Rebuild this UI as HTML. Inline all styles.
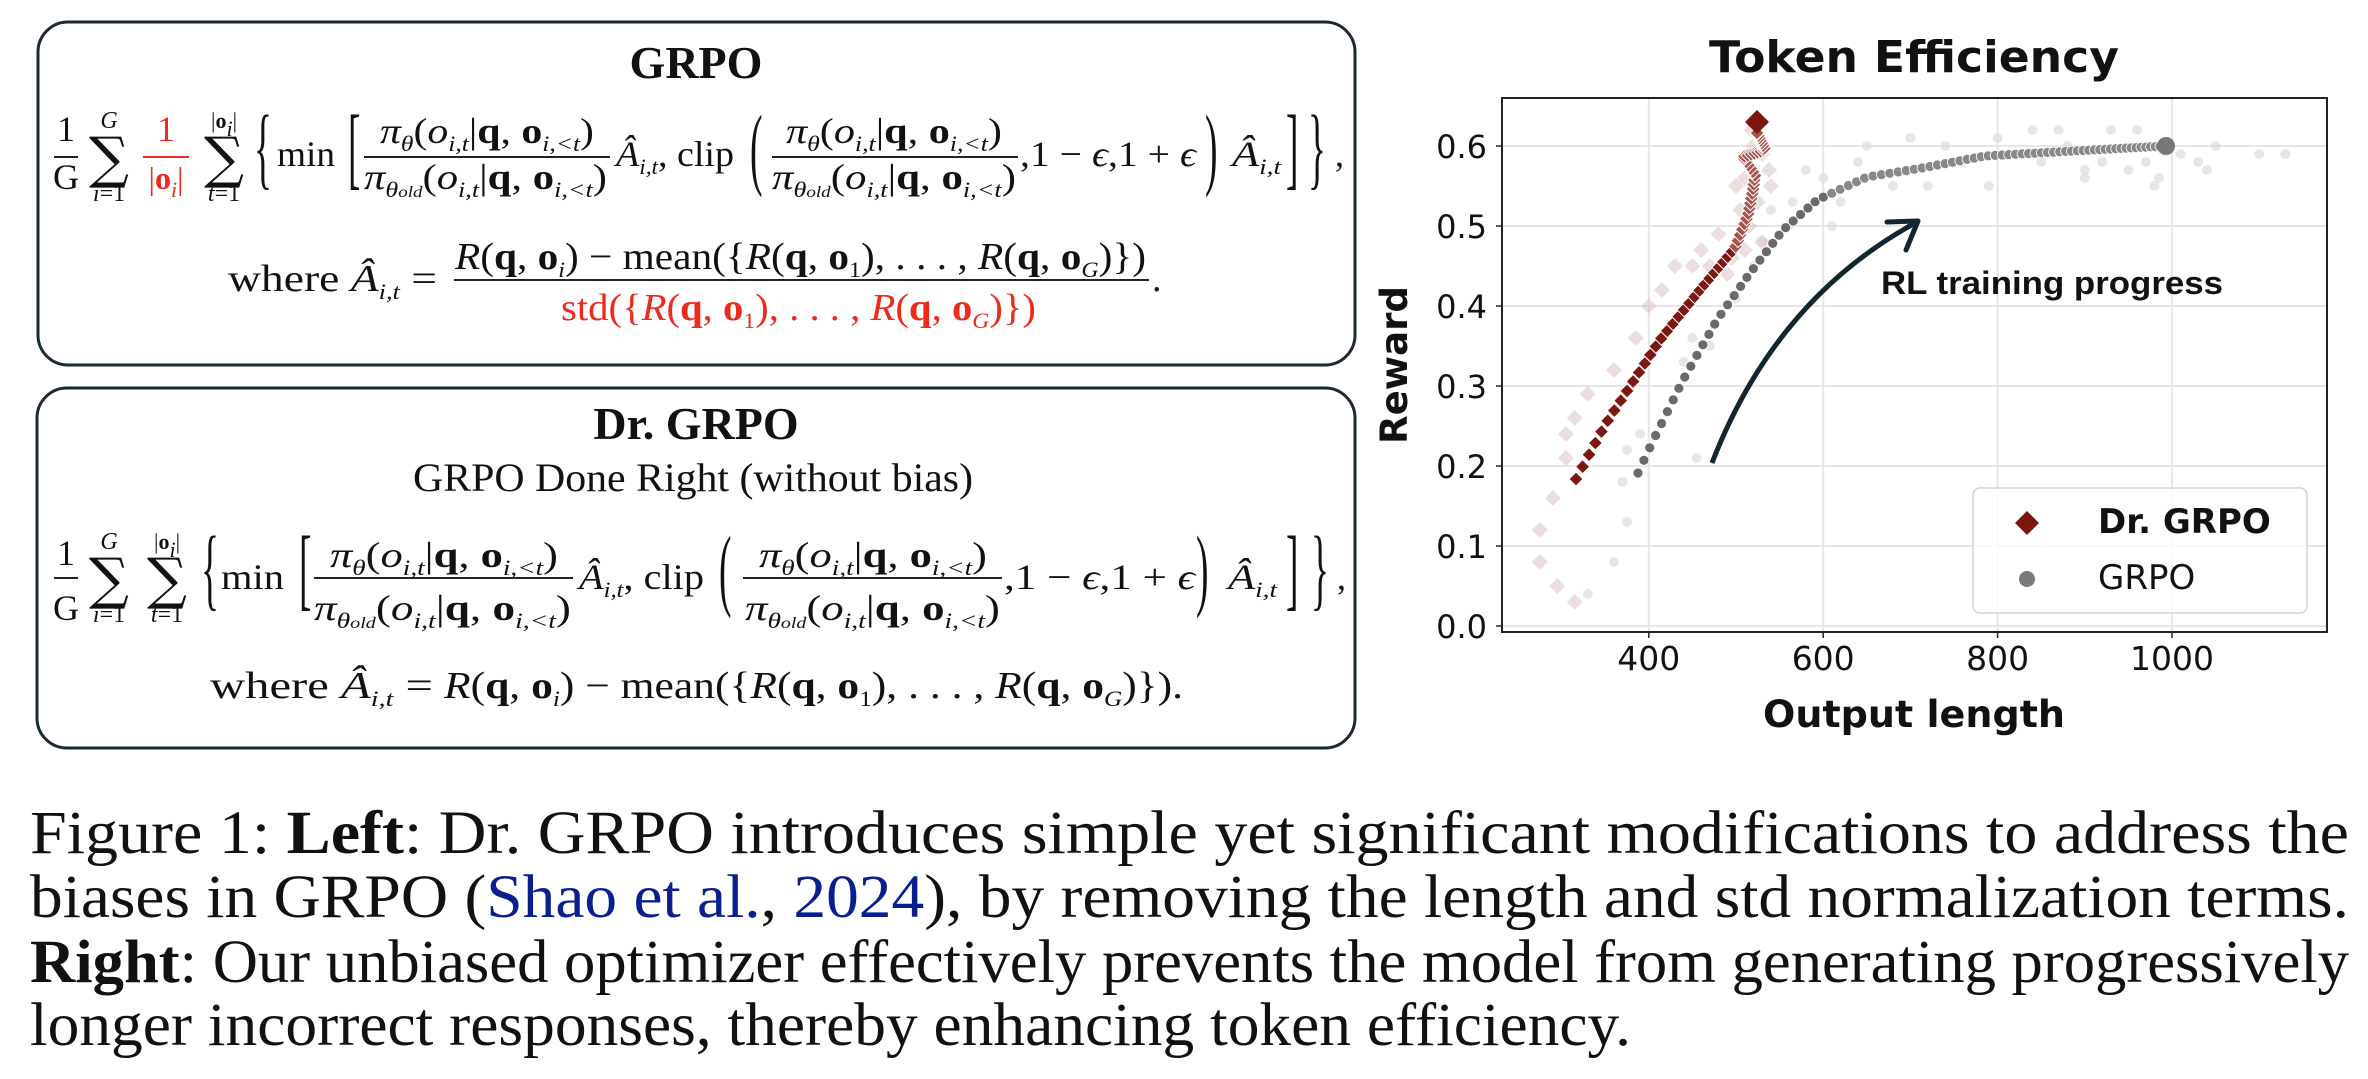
<!DOCTYPE html>
<html><head><meta charset="utf-8"><style>
html,body{margin:0;padding:0;background:#fff;}
svg{display:block}
.m{font-family:"Liberation Serif",serif;fill:#111}
.d{font-family:"DejaVu Sans",sans-serif;fill:#111}
</style></head><body>
<svg id="s" width="2368" height="1079" viewBox="0 0 2368 1079" xmlns="http://www.w3.org/2000/svg"></svg>
<script>
var o=[];
function I(s){return '<tspan font-style="italic">'+s+'</tspan>';}
function B(s){return '<tspan font-weight="bold">'+s+'</tspan>';}
function sb(s){return '<tspan dy="8" font-size="22" font-style="italic">'+s+'</tspan><tspan dy="-8">\u200B</tspan>';}
function T(x,y,w,c,sz,extra){o.push('<text class="m" x="'+x+'" y="'+y+'" font-size="'+(sz||34)+'"'+(w?' textLength="'+w+'" lengthAdjust="spacingAndGlyphs"':'')+(extra||'')+'>'+c+'</text>');}
function C(x,y,c,sz,extra){o.push('<text class="m" x="'+x+'" y="'+y+'" font-size="'+(sz||24)+'" text-anchor="middle"'+(extra||'')+'>'+c+'</text>');}
function L(x1,x2,y,col){o.push('<line x1="'+x1+'" x2="'+x2+'" y1="'+y+'" y2="'+y+'" stroke="'+(col||'#222')+'" stroke-width="2"/>');}
function big(ch,x,cy,h){var fs=34,sc=h/(0.9*fs);var by=cy+0.23*fs*sc;o.push('<text class="m" font-size="'+fs+'" transform="translate('+x+','+by+') scale(1.1,'+sc.toFixed(2)+')">'+ch+'</text>');}
function sig(cx,base){o.push('<text font-family="DejaVu Serif,serif" fill="#111" font-size="56" text-anchor="middle" x="'+cx+'" y="'+base+'">∑</text>');}
var RED='#ee2a1b';var RS=' style="fill:'+RED+'"';
var num=I('π')+sb('θ')+'('+I('o')+sb('i,t')+'|'+B('q')+', '+B('o')+sb('i,&lt;t')+')';
var den=I('π')+sb('θ<tspan font-size="16">old</tspan>')+'('+I('o')+sb('i,t')+'|'+B('q')+', '+B('o')+sb('i,&lt;t')+')';
var Ahat=I('Â')+sb('i,t');
function row1(bar,nb,db,mb,P){
 C(P.f+12,nb-2,'1',36);C(P.f+12,db,'G',36);L(P.f,P.f+24,bar);
 sig(109,bar+20);C(109,bar-29,I('G'),24);C(109,bar+44,I('i')+'=1',24);
 if(P.red){C(166,nb-2,'1',36,RS);L(143,189,bar,RED);C(166,db,'|'+B('o')+sb('i')+'|',32,RS);}
 sig(P.s2,bar+20);C(P.s2,bar-29,'|'+B('o')+sb('i')+'|',22);C(P.s2,bar+44,I('t')+'=1',24);
 big('{',P.br,bar,82);
 T(P.min,mb,P.minw,'min',36);
 big('[',P.sq,bar,82);
 T(P.n1,nb,P.n1w,num,36);L(P.b1a,P.b1b,bar);T(P.b1a,db,P.d1w,den,36);
 T(P.cl,mb,P.clw,Ahat+', clip',36);
 big('(',P.p1,bar,82);
 T(P.n2,nb,P.n2w,num,36);L(P.b2a,P.b2b,bar);T(P.d2,db,P.d2w,den,36);
 T(P.eps,mb,P.epsw,',1 − '+I('ϵ')+',1 + '+I('ϵ'),36);
 big(')',P.p2,bar,82);
 T(P.a2,mb,49,Ahat,36);
 big(']',1286,bar,82);big('}',P.cb,bar,82);T(P.cm,mb,0,',',36);
}
o.push('<rect x="38" y="22" width="1317" height="343" rx="30" fill="none" stroke="#1c2b33" stroke-width="3"/>');
o.push('<rect x="37" y="388" width="1318" height="360" rx="30" fill="none" stroke="#1c2b33" stroke-width="3"/>');
o.push('<text class="m" x="696" y="78" font-size="46" font-weight="bold" text-anchor="middle">GRPO</text>');
o.push('<text class="m" x="696" y="439" font-size="46" font-weight="bold" text-anchor="middle">Dr. GRPO</text>');
T(413,491,560,'GRPO Done Right (without bias)',40);
row1(157,143,189,166,{f:54,red:1,s2:224,br:254,min:277,minw:58,sq:348,n1:380,n1w:214,b1a:364,b1b:610,d1w:243,cl:616,clw:118,p1:750,n2:786,n2w:216,b2a:772,b2b:1018,d2:772,d2w:244,eps:1020,epsw:176,p2:1205,a2:1232,cb:1308,cm:1335});
row1(578,567,620,589,{f:54,red:0,s2:167,br:201,min:221,minw:63,sq:299,n1:330,n1w:228,b1a:314,b1b:573,d1w:257,cl:579,clw:125,p1:719,n2:759,n2w:228,b2a:743,b2b:1002,d2:745,d2w:255,eps:1004,epsw:191,p2:1196,a2:1228,cb:1311,cm:1337});
var R=function(x){return I('R')+'('+B('q')+', '+B('o')+x+')';};
var one='<tspan dy="8" font-size="22">1</tspan><tspan dy="-8">\u200B</tspan>';
T(228,291,209,'where '+Ahat+' =',38);
T(455,269,691,R(sb('i'))+' − mean({'+R(one)+', . . . , '+R(sb('G'))+'})',38);
L(454,1149,280);
T(561,320,475,'std({'+R(one)+', . . . , '+R(sb('G'))+'})',38,RS);
T(1152,291,0,'.',38);
T(210,698,223,'where '+Ahat+' =',38);
T(444,698,739,R(sb('i'))+' − mean({'+R(one)+', . . . , '+R(sb('G'))+'}).',38);
function cap(y,w,c){o.push('<text class="m" x="30" y="'+y+'" font-size="61" textLength="'+w+'" lengthAdjust="spacingAndGlyphs">'+c+'</text>');}
cap(853,2319,'Figure 1: <tspan font-weight="bold">Left</tspan>: Dr. GRPO introduces simple yet significant modifications to address the');
cap(917,2319,'biases in GRPO (<tspan style="fill:#0a1f8f">Shao et al.</tspan>, <tspan style="fill:#0a1f8f">2024</tspan>), by removing the length and std normalization terms.');
cap(982,2319,'<tspan font-weight="bold">Right</tspan>: Our unbiased optimizer effectively prevents the model from generating progressively');
cap(1045,1601,'longer incorrect responses, thereby enhancing token efficiency.');
var X=function(v){return 1300+0.872*v;},Y=function(r){return 626-800*r;};
var AL=1502,AR=2327,AT=98,AB=632;
for(var v=400;v<=1000;v+=200){o.push('<line x1="'+X(v)+'" x2="'+X(v)+'" y1="'+AT+'" y2="'+AB+'" stroke="#e6e6e6" stroke-width="2"/>');o.push('<line x1="'+X(v)+'" x2="'+X(v)+'" y1="'+AB+'" y2="'+(AB+6)+'" stroke="#222" stroke-width="1.5"/>');o.push('<text class="d" font-size="33" text-anchor="middle" x="'+X(v)+'" y="670">'+v+'</text>');}
for(var k=0;k<=6;k++){var y=Y(k/10);o.push('<line x1="'+AL+'" x2="'+AR+'" y1="'+y+'" y2="'+y+'" stroke="#e6e6e6" stroke-width="2"/>');o.push('<line x1="'+(AL-6)+'" x2="'+AL+'" y1="'+y+'" y2="'+y+'" stroke="#222" stroke-width="1.5"/>');o.push('<text class="d" font-size="32" text-anchor="end" x="1487" y="'+(y+12)+'">'+(k/10).toFixed(1)+'</text>');}
var fd=[[275,.08],[275,.12],[290,.16],[295,.05],[305,.21],[305,.24],[315,.26],[330,.29],[360,.32],[385,.36],[400,.40],[415,.42],[430,.45],[450,.45],[460,.47],[480,.49],[500,.55],[510,.56],[520,.60],[518,.62],[530,.59],[540,.55],[538,.57],[530,.48],[510,.47],[495,.46],[470,.45],[315,.03],[505,.52],[525,.53],[515,.50],[490,.44]];
var fg=[[330,.04],[360,.08],[375,.13],[370,.18],[375,.22],[390,.24],[450,.36],[455,.21],[500,.41],[530,.48],[540,.52],[565,.53],[580,.57],[600,.56],[610,.50],[620,.53],[640,.58],[650,.60],[680,.55],[700,.61],[720,.55],[740,.60],[760,.58],[790,.55],[800,.61],[820,.59],[840,.62],[850,.58],[870,.62],[880,.60],[900,.57],[920,.58],[930,.62],[950,.57],[960,.62],[970,.58],[985,.56],[1010,.59],[1030,.58],[1040,.57],[1050,.60],[1100,.59],[1130,.59],[980,.55],[900,.56],[470,.35],[440,.33],[520,.45],[560,.50]];
fg.forEach(function(p){o.push('<circle cx="'+X(p[0])+'" cy="'+Y(p[1])+'" r="5" fill="#dcdcdc" opacity="0.7"/>');});
function dia(x,y,s,f,st){o.push('<path d="M'+x+' '+(y-s)+'L'+(x+s)+' '+y+'L'+x+' '+(y+s)+'L'+(x-s)+' '+y+'Z" fill="'+f+'"'+(st?' stroke="#fff" stroke-width="1"':'')+'/>');}
fd.forEach(function(p){dia(X(p[0]),Y(p[1]),8,'rgba(220,195,195,0.55)');});
function samp(pts,s0,s1){
 var total=0;for(var j=1;j<pts.length;j++)total+=Math.hypot(pts[j][0]-pts[j-1][0],pts[j][1]-pts[j-1][1]);
 var acc=[];var pos=0;while(pos<total){acc.push(pos);var f=pos/total;pos+=s0+(s1-s0)*f;}
 acc.push(total);
 var res=[];acc.forEach(function(a){var r=a;for(var j=1;j<pts.length;j++){var l=Math.hypot(pts[j][0]-pts[j-1][0],pts[j][1]-pts[j-1][1]);if(r<=l||j==pts.length-1){var q=Math.min(1,r/l);res.push([pts[j-1][0]+(pts[j][0]-pts[j-1][0])*q,pts[j-1][1]+(pts[j][1]-pts[j-1][1])*q]);break;}r-=l;}});
 return res;}
var g=samp([[1638,473],[1650,447],[1683,380],[1717,320],[1750,273],[1783,230],[1817,200],[1867,177],[1922,168],[1985,156],[2073,151],[2166,146]],14,4.5);
g.forEach(function(p,i){var c=i<30?'#6a6a6a':'#888';o.push('<circle cx="'+p[0].toFixed(1)+'" cy="'+p[1].toFixed(1)+'" r="5" fill="'+c+'" stroke="#fff" stroke-width="0.8"/>');});
o.push('<circle cx="2166" cy="146" r="9" fill="#777"/>');
var dpts=samp([[1576,479],[1605,425],[1660,340],[1700,290],[1735,248],[1748,215],[1753,190],[1755,175],[1743,157],[1765,150],[1757,133]],14,2.5);
dpts.forEach(function(p,i){var f=p[1]>250?'#7b1710':'#a8544c';dia(p[0],p[1],7,f,1);});
dia(1757,122,12,'#7b1710');
o.push('<rect x="'+AL+'" y="'+AT+'" width="'+(AR-AL)+'" height="'+(AB-AT)+'" fill="none" stroke="#222" stroke-width="2"/>');
o.push('<path d="M1712,463 Q1775,300 1915,223" fill="none" stroke="#132630" stroke-width="5"/>');
o.push('<path d="M1887,222 L1918,221 L1906,250" fill="none" stroke="#132630" stroke-width="5" stroke-linecap="round" stroke-linejoin="round"/>');
o.push('<text x="1881" y="294" font-family="Liberation Sans,sans-serif" font-weight="bold" font-size="32" textLength="342" lengthAdjust="spacingAndGlyphs" fill="#111">RL training progress</text>');
o.push('<rect x="1973" y="488" width="334" height="125" rx="7" fill="#fff" fill-opacity="0.8" stroke="#d4d4d4" stroke-width="1.5"/>');
dia(2027,523,12,'#7b1710');
o.push('<circle cx="2027" cy="579" r="8" fill="#7a7a7a"/>');
o.push('<text class="d" x="2098" y="533" font-size="34" font-weight="bold">Dr. GRPO</text>');
o.push('<text class="d" x="2098" y="589" font-size="34">GRPO</text>');
o.push('<text class="d" x="1914" y="72" font-size="44" font-weight="bold" text-anchor="middle" textLength="410" lengthAdjust="spacingAndGlyphs">Token Efficiency</text>');
o.push('<text class="d" x="1914" y="727" font-size="37" font-weight="bold" text-anchor="middle" textLength="302" lengthAdjust="spacingAndGlyphs">Output length</text>');
o.push('<text class="d" transform="translate(1407,365) rotate(-90)" font-size="37" font-weight="bold" text-anchor="middle" textLength="158" lengthAdjust="spacingAndGlyphs">Reward</text>');
document.getElementById('s').innerHTML=o.join('');
</script>
</body></html>
